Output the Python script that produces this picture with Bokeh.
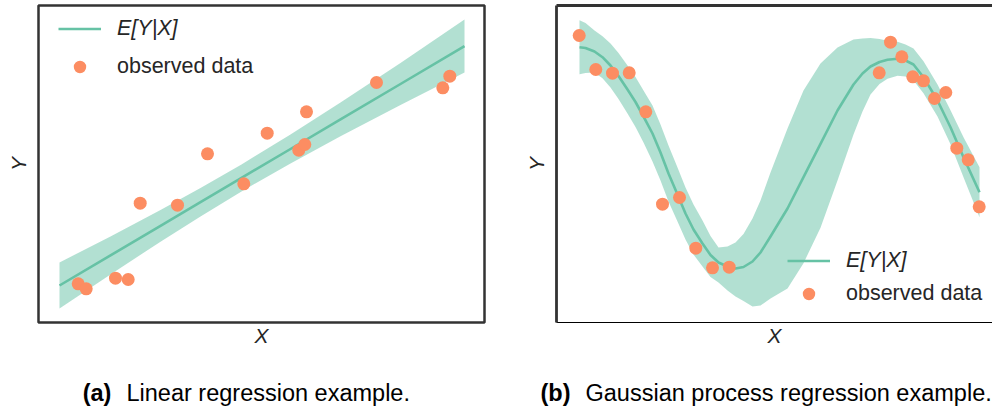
from bokeh.plotting import figure
from bokeh.layouts import row, column
from bokeh.models import Range1d, Legend, LegendItem, LinearAxis, FixedTicker
from bokeh.core.properties import value
from bokeh.embed import file_html
from bokeh.resources import INLINE

# ---------------- data (arbitrary units, no ticks on the axes) ----------------
# (a) linear regression
lin_obs_x = [39.7, 47.7, 77.0, 89.7, 101.7, 139.0, 169.0, 205.3, 228.7, 260.3, 266.3, 268.0, 338.0, 404.3, 411.3]
lin_obs_y = [38.7, 33.7, 44.3, 43.0, 119.3, 117.3, 168.7, 138.7, 189.3, 172.3, 178.0, 210.7, 240.0, 234.7, 246.3]
lin_grid_x = [21, 72, 122, 162, 203, 252, 302, 362, 426]
lin_mean = [37.0, 67.1, 96.7, 120.3, 144.6, 173.5, 203.1, 238.5, 276.4]
lin_upper = [60.0, 86.1, 112.6, 134.5, 158.1, 187.9, 220.0, 259.6, 302.9]
lin_lower = [14.0, 48.1, 80.8, 106.1, 131.1, 159.1, 186.2, 217.4, 249.9]

# (b) gaussian process regression
gp_obs_x = [22.7, 39.3, 56.0, 72.7, 89.3, 106.0, 123.0, 139.3, 156.0, 172.7,
            322.7, 334.0, 345.3, 356.3, 367.0, 378.0, 389.3, 400.3, 411.7, 422.7]
gp_obs_y = [287.0, 253.0, 249.3, 249.7, 210.7, 118.3, 125.0, 74.3, 54.7, 55.3,
            249.7, 280.3, 265.7, 245.7, 241.7, 224.0, 230.0, 174.3, 162.7, 115.7]
gp_grid_x = [23, 29, 38, 46, 54, 62, 71, 79, 87, 96, 104, 112, 121, 129, 137, 146, 154, 162,
             171, 179, 187, 196, 204, 214, 231, 247, 264, 281, 297, 306, 314, 323, 331,
             341, 349, 357, 367, 381, 394, 407, 423]
gp_mean = [275.3, 274.5, 271.0, 265.3, 257.0, 246.5, 233.0, 220.5, 206.0, 189.0, 170.0, 149.0,
           128.0, 109.0, 93.0, 79.0, 67.5, 60.0, 56.0, 54.0, 55.5, 61.0, 70.0, 86.0, 114.0,
           145.3, 178.7, 212.0, 238.0, 249.0, 256.0, 260.5, 262.7, 263.7, 262.0, 258.0,
           245.3, 222.0, 195.3, 165.3, 130.3]
gp_upper = [302.3, 299.5, 292.0, 286.3, 279.0, 269.5, 257.0, 245.5, 232.0, 217.0, 198.0, 177.0,
            155.0, 135.0, 118.0, 102.0, 86.5, 75.0, 76.0, 80.0, 88.5, 104.0, 122.0, 150.0,
            194.0, 232.0, 259.0, 275.0, 283.0, 284.0, 284.5, 283.5, 281.7, 280.7, 278.0,
            274.0, 261.3, 238.0, 212.3, 185.3, 155.3]
gp_lower = [248.3, 249.5, 250.0, 244.3, 235.0, 223.5, 209.0, 195.5, 180.0, 161.0, 142.0, 121.0,
            101.0, 83.0, 68.0, 56.0, 45.5, 40.0, 32.0, 26.0, 21.5, 16.0, 17.0, 24.0, 34.0,
            59.3, 94.7, 142.0, 188.0, 211.0, 228.0, 238.5, 243.7, 246.7, 246.0, 242.0,
            229.3, 206.0, 178.3, 145.3, 105.3]

mean_label = "E[Y|X]"
data_label = "observed data"
x_label = "X"
y_label = "Y"
cap_tags = ["(a)", "(b)"]
cap_texts = ["Linear regression example.", "Gaussian process regression example."]

# ---------------- style ----------------
TEAL = "#66c2a5"
ORANGE = "#fc8d62"
FRAME = "#333333"
TXT = "#262626"
LEG_FONT = "Liberation Sans"
CAP_FONT = "Liberation Sans"


def make_fig(width, xmax, border_left, border_right):
    p = figure(width=width, height=360, x_range=Range1d(0, xmax), y_range=Range1d(0, 317),
               output_backend="svg", toolbar_location=None,
               min_border_left=border_left, min_border_right=border_right,
               min_border_top=5, min_border_bottom=38)
    p.grid.visible = False
    p.background_fill_color = "white"
    p.border_fill_color = "white"
    for ax in (p.xaxis[0], p.yaxis[0]):
        ax.ticker = FixedTicker(ticks=[])
        ax.major_tick_line_color = None
        ax.minor_tick_line_color = None
        ax.major_label_text_font_size = "0px"
        ax.major_label_standoff = 0
        ax.major_tick_out = 0
        ax.major_tick_in = 0
        ax.axis_label_text_font = LEG_FONT
        ax.axis_label_text_font_style = "italic"
        ax.axis_label_text_font_size = "21px"
        ax.axis_label_text_color = TXT
    p.xaxis.axis_label = x_label
    p.yaxis.axis_label = y_label
    p.xaxis.axis_label_standoff = 1
    p.yaxis.axis_label_standoff = 9
    return p


def add_common(p, gx, gm, gu, gl, ox, oy, leg_x, leg_y_line, leg_y_pts):
    p.varea(x=gx, y1=gl, y2=gu, fill_color=TEAL, fill_alpha=0.5)
    line_r = p.line(gx, gm, line_color=TEAL, line_width=2.6, line_join="round")
    pts_r = p.scatter(ox, oy, size=13, fill_color=ORANGE, line_color=None)

    common = dict(background_fill_alpha=0, border_line_color=None, padding=0, margin=0,
                  spacing=0, glyph_width=43, glyph_height=31, label_height=31,
                  label_standoff=16, label_text_font=LEG_FONT,
                  label_text_font_size="21.5px", label_text_color=TXT)
    leg1 = Legend(items=[LegendItem(label=mean_label, renderers=[line_r])],
                  location=(leg_x, leg_y_line), label_text_font_style="italic", **common)
    leg2 = Legend(items=[LegendItem(label=data_label, renderers=[pts_r])],
                  location=(leg_x, leg_y_pts), **common)
    p.add_layout(leg1)
    p.add_layout(leg2)


# left panel
p1 = make_fig(520, 446, 38, 36)
p1.outline_line_color = FRAME
p1.outline_line_width = 2.5
p1.xaxis.axis_line_color = None
p1.yaxis.axis_line_color = None
add_common(p1, lin_grid_x, lin_mean, lin_upper, lin_lower, lin_obs_x, lin_obs_y,
           20, 278, 240.5)

# right panel (frame continues past the right edge of the window)
p2 = make_fig(472, 436, 36, 0)
p2.outline_line_color = None
top_axis = LinearAxis(ticker=FixedTicker(ticks=[]), major_tick_line_color=None,
                      minor_tick_line_color=None, major_label_text_font_size="0px",
                      major_label_standoff=0, major_tick_out=0, major_tick_in=0)
p2.add_layout(top_axis, "above")
for ax in (p2.xaxis[0], p2.yaxis[0], top_axis):
    ax.axis_line_color = FRAME
    ax.axis_line_width = 2.8
add_common(p2, gp_grid_x, gp_mean, gp_upper, gp_lower, gp_obs_x, gp_obs_y,
           231, 46.5, 13.2)

# caption strip below the two panels
cap = figure(width=992, height=49, x_range=Range1d(0, 992), y_range=Range1d(0, 49),
             output_backend="svg", toolbar_location=None,
             min_border_left=0, min_border_right=0, min_border_top=0, min_border_bottom=0)
cap.axis.visible = False
cap.grid.visible = False
cap.outline_line_color = None
cap.text(x=[96.5, 555], y=[17, 17], text=cap_tags, text_align="center",
         text_baseline="alphabetic", text_font=value(CAP_FONT), text_font_style="bold",
         text_font_size="23.5px", text_color="black")
cap.text(x=[126, 585], y=[17, 17], text=cap_texts, text_align="left",
         text_baseline="alphabetic", text_font=value(CAP_FONT),
         text_font_size="23.5px", text_color="black")

layout = column(row(p1, p2), cap)
open("out.html", "w").write(file_html(layout, INLINE))
